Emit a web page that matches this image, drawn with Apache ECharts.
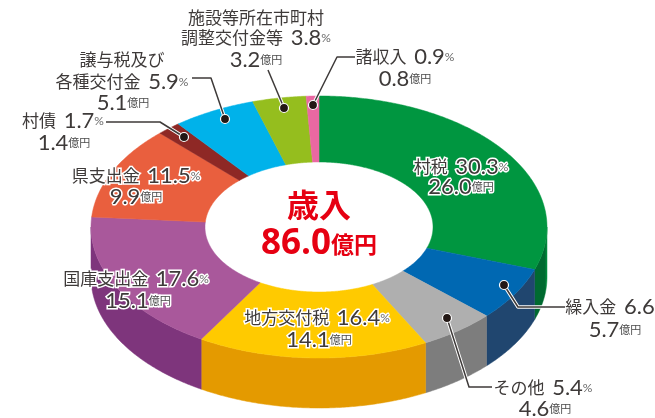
<!DOCTYPE html>
<html>
<head>
<meta charset="utf-8">
<style>
  html, body { margin: 0; padding: 0; background: #fff; }
  #chart { width: 655px; height: 418px; }
</style>
<script src="https://cdn.jsdelivr.net/npm/echarts@6/dist/echarts.min.js"></script>
</head>
<body>
<div id="chart"></div>
<script>
// 歳入の内訳
const names = ['村税', '繰入金', 'その他', '地方交付税', '国庫支出金', '県支出金', '村債', '譲与税及び各種交付金', '施設等所在市町村調整交付金等', '諸収入'];
const percents = [30.3, 6.6, 5.4, 16.4, 17.6, 11.5, 1.7, 5.9, 3.8, 0.9];
const amounts = [26.0, 5.7, 4.6, 14.1, 15.1, 9.9, 1.4, 5.1, 3.2, 0.8];
const totalLabel = '86.0';

const topColors = ['#009640', '#0068b2', '#afafaf', '#ffca00', '#a9589b', '#e95f3e', '#8e2825', '#00b2ea', '#95be1e', '#ea68a2'];
const sideColors = ['#006a30', '#20466f', '#7d7d7d', '#e49a00', '#7e357c', '#b5452c', '#6a1c1a', '#0083ad', '#6f8e16', '#ad4c78'];

// 楕円の形
const cx = 319, cy = 227, rx = 228, ry = 131, holeRx = 114, holeRy = 65, depth = 50;

// 文字の位置: [x, y, name line, index, percent?, no unit?]
const labelLines = [
  [[461, 167, '村税  ', 0, true], [461, 187, '', 0, false]],
  [[610, 307, '繰入金  ', 1, true, true], [615, 330, '', 1, false]],
  [[543, 388, 'その他  ', 2, true], [545, 409, '', 2, false]],
  [[317, 318, '地方交付税  ', 3, true], [319, 340, '', 3, false]],
  [[136, 279, '国庫支出金  ', 4, true], [138, 301, '', 4, false]],
  [[136, 176, '県支出金  ', 5, true], [136, 197, '', 5, false]],
  [[63, 121, '村債  ', 6, true], [64, 143, '', 6, false]],
  [[122, 60, '譲与税及び'], [122, 82, '各種交付金  ', 7, true], [123, 103, '', 7, false]],
  [[256, 18, '施設等所在市町村'], [256, 38, '調整交付金等  ', 8, true], [256, 60, '', 8, false]],
  [[405, 57, '諸収入  ', 9, true], [405, 79, '', 9, false]]
];
const halo = [true, false, false, true, true, true, false, false, false, false];

// 引き出し線
const leaders = [
  [[355, 57], [337, 57], [313, 105]],
  [[268, 70], [284, 108]],
  [[192, 78], [211, 78], [225, 119]],
  [[106, 122], [160, 122], [184, 137]],
  [[565, 307], [518, 307], [504, 285]],
  [[492, 387], [469, 387], [447, 318]]
];

const sum = percents.reduce((a, b) => a + b, 0);
const pt = (deg, a, b, dy) => {
  const t = deg * Math.PI / 180;
  return [cx + a * Math.sin(t), cy - b * Math.cos(t) + (dy || 0)];
};
const arc = (from, to, a, b, dy) => {
  const list = [];
  const n = Math.max(2, Math.ceil(Math.abs(to - from) * 2));
  for (let i = 0; i <= n; i++) list.push(pt(from + (to - from) * i / n, a, b, dy));
  return list;
};

function sliceAngles(i) {
  let start = 0;
  for (let k = 0; k < i; k++) start += percents[k];
  return [start / sum * 360, (start + percents[i]) / sum * 360];
}

function renderSide(params, api) {
  const i = api.value(0);
  const [a0, a1] = sliceAngles(i);
  const from = Math.max(a0, 90), to = Math.min(a1, 270);
  if (to <= from) return { type: 'group', children: [] };
  let color = sideColors[i];
  if (i === 0) {
    // 右端だけ少し明るい
    color = new echarts.graphic.LinearGradient(0, 0, 1, 0, [
      { offset: 0, color: sideColors[0] },
      { offset: 0.8, color: sideColors[0] },
      { offset: 1, color: topColors[0] }
    ]);
  }
  return {
    type: 'polygon',
    shape: { points: arc(from, to, rx, ry, 0).concat(arc(to, from, rx, ry, depth)) },
    style: { fill: color, stroke: color, lineWidth: 0.5 }
  };
}

function renderTop(params, api) {
  const i = api.value(0);
  const [a0, a1] = sliceAngles(i);
  return {
    type: 'polygon',
    shape: { points: arc(a0, a1, rx, ry, 0).concat(arc(a1, a0, holeRx, holeRy, 0)) },
    style: { fill: topColors[i], stroke: topColors[i], lineWidth: 0.5 }
  };
}

const cjk = '"Noto Sans CJK JP"';
const rich = {
  n: { fontFamily: cjk, fontSize: 17, fill: '#3e3a39' },
  v: { fontFamily: 'Lato', fontSize: 22, fill: '#3e3a39' },
  p: { fontFamily: 'Lato', fontSize: 12, fill: '#6a6a6a' },
  u: { fontFamily: cjk, fontSize: 11, fill: '#4a4a4a' }
};

function lineText(line, useHalo) {
  const [x, y, name, idx, isPct, noUnit] = line;
  let text = name ? `{n|${name}}` : '';
  if (idx !== undefined) {
    if (isPct) text += `{v|${percents[idx].toFixed(1)}}` + (noUnit ? '' : '{p|%}');
    else text += `{v|${amounts[idx].toFixed(1)}}{u|億円}`;
  }
  const r = {};
  Object.keys(rich).forEach(k => {
    r[k] = Object.assign({}, rich[k], useHalo ? { stroke: '#fff', lineWidth: 3 } : {});
  });
  return {
    type: 'text',
    style: { text: text, x: x, y: y, align: 'center', verticalAlign: 'middle', rich: r }
  };
}

function renderLabels(params, api) {
  const i = api.value(0);
  return { type: 'group', children: labelLines[i].map(l => lineText(l, halo[i])) };
}

function renderLeader(params, api) {
  const pts = leaders[api.value(0)];
  const dot = pts[pts.length - 1];
  return {
    type: 'group',
    children: [
      { type: 'polyline', shape: { points: pts }, style: { fill: 'none', stroke: '#fff', lineWidth: 3.5, lineJoin: 'round' } },
      { type: 'polyline', shape: { points: pts }, style: { fill: 'none', stroke: '#3e3a39', lineWidth: 1.5, lineJoin: 'round' } },
      { type: 'circle', shape: { cx: dot[0], cy: dot[1], r: 4.5 }, style: { fill: '#231815', stroke: '#fff', lineWidth: 1.2 } }
    ]
  };
}

const rows = names.map((n, i) => [i, percents[i], amounts[i], n]);

const chart = echarts.init(document.getElementById('chart'), null, { renderer: 'canvas' });
chart.setOption({
  animation: false,
  backgroundColor: '#fff',
  series: [
    { type: 'custom', coordinateSystem: 'none', silent: true, data: rows, renderItem: renderSide, z: 1 },
    { type: 'custom', coordinateSystem: 'none', silent: true, data: rows, renderItem: renderTop, z: 2 },
    { type: 'custom', coordinateSystem: 'none', silent: true, data: leaders.map((l, i) => [i]), renderItem: renderLeader, z: 3 },
    { type: 'custom', coordinateSystem: 'none', silent: true, data: rows, renderItem: renderLabels, z: 4 }
  ],
  graphic: [
    { type: 'text', z: 10, style: { text: '歳入', x: 319, y: 205, align: 'center', verticalAlign: 'middle', fill: '#e60012', font: 'bold 32px "Noto Sans CJK JP"' } },
    {
      type: 'text', z: 10,
      style: {
        text: `{a|${totalLabel}}{b|億円}`, x: 319, y: 244, align: 'center', verticalAlign: 'middle',
        rich: {
          a: { fontFamily: 'Open Sans', fontWeight: 'bold', fontSize: 35, fill: '#e60012' },
          b: { fontFamily: cjk, fontWeight: 'bold', fontSize: 23, fill: '#e60012' }
        }
      }
    }
  ]
});
</script>
</body>
</html>
